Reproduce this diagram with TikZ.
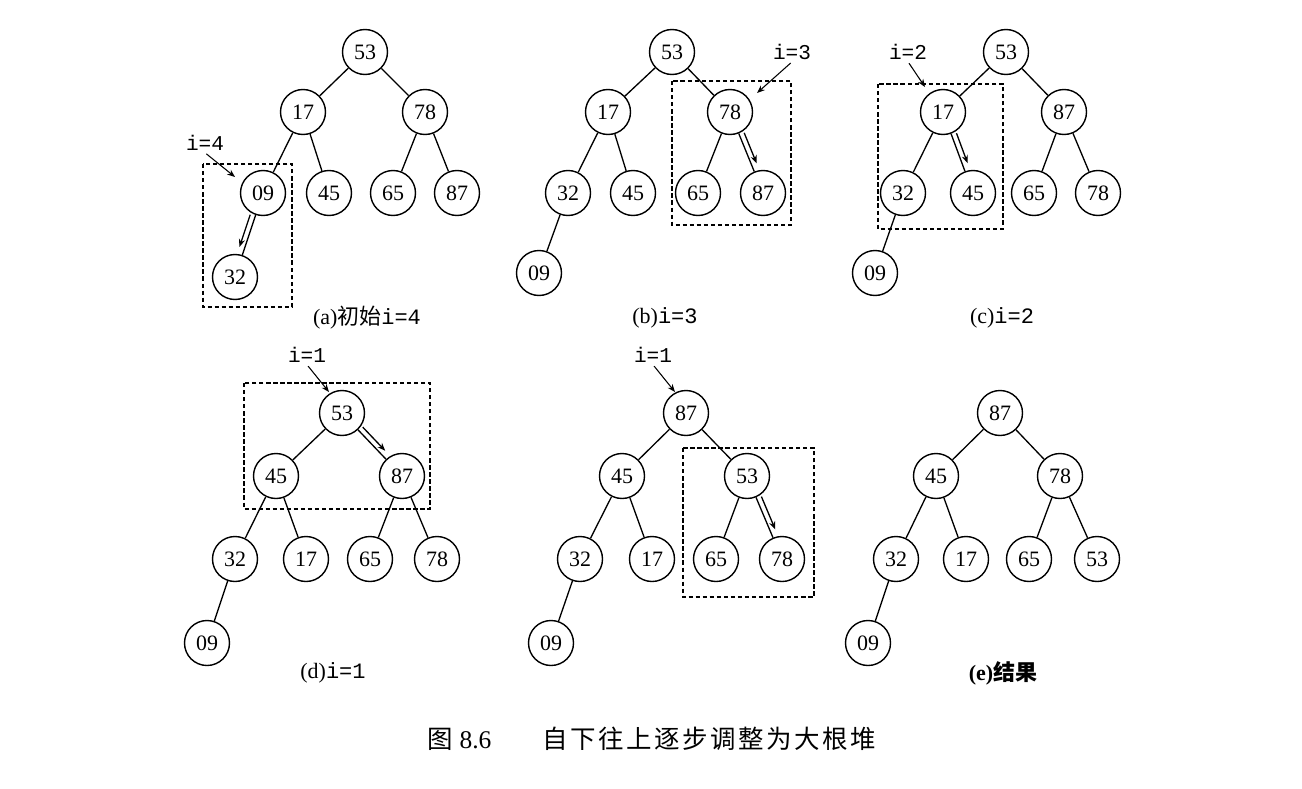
\documentclass[tikz,border=0pt]{standalone}
\usepackage{fontspec}
\setmainfont{Liberation Serif}
\setmonofont{Liberation Mono}
\newfontfamily\cjk{Noto Sans CJK SC}
\newfontfamily\cjkcap[LetterSpace=10]{Noto Sans CJK SC}
\usetikzlibrary{arrows.meta,calc}
\tikzset{
  hn/.style={draw,circle,line width=0.8pt,minimum size=0.9cm,inner sep=0pt,font=\fontsize{12.5}{12.5}\selectfont},
  link/.style={line width=0.75pt},
  dbox/.style={draw,line width=0.75pt,dash pattern=on 2.5pt off 1.5pt},
  idx/.style={font=\ttfamily\fontsize{12}{12}\selectfont,inner sep=1pt},
  ptr/.style={-{Stealth[length=4.5pt,width=3.5pt]},line width=0.6pt,shorten <=1pt},
  move/.style={-{Stealth[length=4.5pt,width=3.5pt]},line width=0.75pt,shorten <=14pt,shorten >=17pt},
  subcap/.style={font=\fontsize{12.5}{12.5}\selectfont}
}
\begin{document}
\begin{tikzpicture}
\useasboundingbox (0,0) rectangle (26.04,-15.76);
\node[hn] (a1) at (7.30,-1.04) {53};
\node[hn] (a2) at (6.06,-2.24) {17};
\node[hn] (a3) at (8.50,-2.24) {78};
\node[hn] (a4) at (5.26,-3.86) {09};
\node[hn] (a5) at (6.58,-3.86) {45};
\node[hn] (a6) at (7.86,-3.86) {65};
\node[hn] (a7) at (9.14,-3.86) {87};
\node[hn] (a8) at (4.70,-5.54) {32};
\draw[link] (a1) -- (a2) (a1) -- (a3) (a2) -- (a4) (a2) -- (a5) (a3) -- (a6) (a3) -- (a7) (a4) -- (a8);
\draw[dbox] (4.06,-3.28) rectangle (5.84,-6.14);
\node[idx] (la) at (4.10,-2.86) {i=4};
\coordinate (pa) at (4.70,-3.54);
\draw[ptr] (la.south) -- (pa);
\draw[move] ($(a4)!3pt!-90:(a8)$) -- ($(a8)!3pt!90:(a4)$);
\node[subcap] (capa) at (7.34,-6.36) {(a){\cjk 初始}\texttt{i=4}};

\node[hn] (b1) at (13.44,-1.04) {53};
\node[hn] (b2) at (12.16,-2.24) {17};
\node[hn] (b3) at (14.60,-2.24) {78};
\node[hn] (b4) at (11.36,-3.86) {32};
\node[hn] (b5) at (12.66,-3.86) {45};
\node[hn] (b6) at (13.96,-3.86) {65};
\node[hn] (b7) at (15.26,-3.86) {87};
\node[hn] (b8) at (10.78,-5.46) {09};
\draw[link] (b1) -- (b2) (b1) -- (b3) (b2) -- (b4) (b2) -- (b5) (b3) -- (b6) (b3) -- (b7) (b4) -- (b8);
\draw[dbox] (13.44,-1.62) rectangle (15.82,-4.50);
\node[idx] (lb) at (15.84,-1.04) {i=3};
\coordinate (pb) at (15.14,-1.86);
\draw[ptr] (lb.south) -- (pb);
\draw[move] ($(b3)!3pt!90:(b7)$) -- ($(b7)!3pt!-90:(b3)$);
\node[subcap] (capb) at (13.30,-6.36) {(b)\texttt{i=3}};

\node[hn] (c1) at (20.12,-1.04) {53};
\node[hn] (c2) at (18.86,-2.24) {17};
\node[hn] (c3) at (21.28,-2.24) {87};
\node[hn] (c4) at (18.06,-3.86) {32};
\node[hn] (c5) at (19.46,-3.86) {45};
\node[hn] (c6) at (20.68,-3.86) {65};
\node[hn] (c7) at (21.96,-3.86) {78};
\node[hn] (c8) at (17.50,-5.46) {09};
\draw[link] (c1) -- (c2) (c1) -- (c3) (c2) -- (c4) (c2) -- (c5) (c3) -- (c6) (c3) -- (c7) (c4) -- (c8);
\draw[dbox] (17.56,-1.68) rectangle (20.06,-4.58);
\node[idx] (lc) at (18.16,-1.04) {i=2};
\coordinate (pc) at (18.50,-1.74);
\draw[ptr] (lc.south) -- (pc);
\draw[move] ($(c2)!3pt!90:(c5)$) -- ($(c5)!3pt!-90:(c2)$);
\node[subcap] (capc) at (20.04,-6.36) {(c)\texttt{i=2}};

\node[hn] (d1) at (6.84,-8.26) {53};
\node[hn] (d2) at (5.52,-9.52) {45};
\node[hn] (d3) at (8.04,-9.52) {87};
\node[hn] (d4) at (4.70,-11.18) {32};
\node[hn] (d5) at (6.12,-11.18) {17};
\node[hn] (d6) at (7.40,-11.18) {65};
\node[hn] (d7) at (8.74,-11.18) {78};
\node[hn] (d8) at (4.14,-12.86) {09};
\draw[link] (d1) -- (d2) (d1) -- (d3) (d2) -- (d4) (d2) -- (d5) (d3) -- (d6) (d3) -- (d7) (d4) -- (d8);
\draw[dbox] (4.88,-7.66) rectangle (8.60,-10.18);
\node[idx] (ld) at (6.14,-7.10) {i=1};
\coordinate (pd) at (6.58,-7.84);
\draw[ptr] (ld.south) -- (pd);
\draw[move] ($(d1)!3pt!90:(d3)$) -- ($(d3)!3pt!-90:(d1)$);
\node[subcap] (capd) at (6.66,-13.46) {(d)\texttt{i=1}};

\node[hn] (m1) at (13.72,-8.26) {87};
\node[hn] (m2) at (12.44,-9.52) {45};
\node[hn] (m3) at (14.94,-9.52) {53};
\node[hn] (m4) at (11.60,-11.18) {32};
\node[hn] (m5) at (13.04,-11.18) {17};
\node[hn] (m6) at (14.32,-11.18) {65};
\node[hn] (m7) at (15.64,-11.18) {78};
\node[hn] (m8) at (11.02,-12.86) {09};
\draw[link] (m1) -- (m2) (m1) -- (m3) (m2) -- (m4) (m2) -- (m5) (m3) -- (m6) (m3) -- (m7) (m4) -- (m8);
\draw[dbox] (13.66,-8.96) rectangle (16.28,-11.94);
\node[idx] (lm) at (13.06,-7.10) {i=1};
\coordinate (pm) at (13.50,-7.84);
\draw[ptr] (lm.south) -- (pm);
\draw[move] ($(m3)!3pt!90:(m7)$) -- ($(m7)!3pt!-90:(m3)$);

\node[hn] (e1) at (20.00,-8.26) {87};
\node[hn] (e2) at (18.72,-9.52) {45};
\node[hn] (e3) at (21.20,-9.52) {78};
\node[hn] (e4) at (17.92,-11.18) {32};
\node[hn] (e5) at (19.32,-11.18) {17};
\node[hn] (e6) at (20.58,-11.18) {65};
\node[hn] (e7) at (21.94,-11.18) {53};
\node[hn] (e8) at (17.36,-12.86) {09};
\draw[link] (e1) -- (e2) (e1) -- (e3) (e2) -- (e4) (e2) -- (e5) (e3) -- (e6) (e3) -- (e7) (e4) -- (e8);
\node[subcap] (cape) at (20.06,-13.46) {\bfseries (e){\cjk 结果}};

\node[font=\fontsize{14.5}{14.5}\selectfont] (title) at (13.04,-14.78) {{\cjk 图} 8.6\hspace{2em}{\cjkcap 自下往上逐步调整为大根堆}};
\end{tikzpicture}
\end{document}
